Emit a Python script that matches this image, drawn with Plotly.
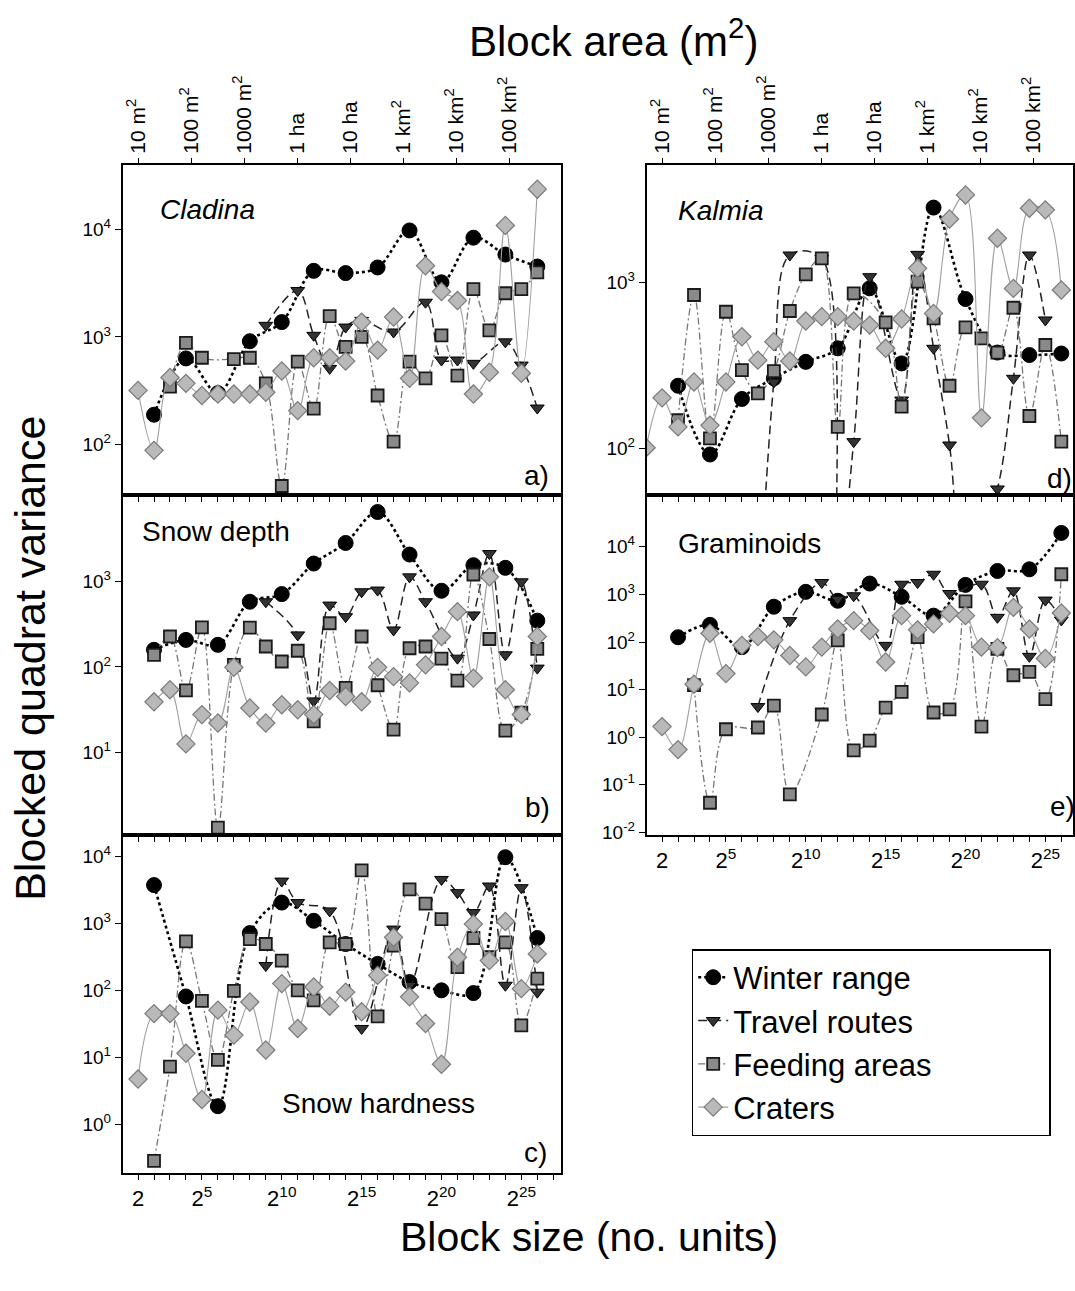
import math
import plotly.graph_objects as go

W, H = 1075, 1291
FONT = "Liberation Sans, Arial, sans-serif"

# x values are log2(block size); "2" = 2^1
# ---------------- Panel a: Cladina ----------------
A_WR_X = [2, 4, 6, 8, 10, 12, 14, 16, 18, 20, 22, 24, 26]
A_WR_Y = [189, 631, 300, 912, 1374, 4121, 3926, 4430, 9790, 3220, 8380, 5840, 4520]
A_TR_X = [9, 11, 12, 13, 14, 15, 17, 19, 20, 21, 22, 24, 25, 26]
A_TR_Y = [1282, 2700, 1035, 510, 1236, 1426, 1112, 2104, 610, 610, 568, 900, 547, 218]
A_FA_X = [3, 4, 5, 7, 8, 9, 10, 11, 12, 13, 14, 15, 16, 17, 18, 19, 20, 21, 22, 23, 24, 25, 26]
A_FA_Y = [345, 881, 640, 622, 640, 370, 41, 588, 215, 1563, 809, 1000, 285, 106, 588, 412,
          1035, 436, 2790, 1153, 2548, 2790, 3980]
A_CR_X = list(range(1, 27))
A_CR_Y = [318, 88, 419, 370, 285, 294, 294, 294, 306, 482, 206, 640, 640, 596, 1374, 754,
          1531, 412, 4593, 2642, 2179, 294, 469, 10890, 459, 23700]

# ---------------- Panel b: Snow depth ----------------
B_WR_X = [2, 4, 6, 8, 10, 12, 14, 16, 18, 20, 22, 24, 26]
B_WR_Y = [159, 208, 182, 583, 717, 1638, 2857, 6590, 2089, 785, 1567, 1459, 350]
B_TR_X = [9, 11, 12, 13, 14, 15, 16, 17, 18, 19, 21, 22, 23, 24, 25, 26]
B_TR_Y = [583, 238, 40, 533, 390, 764, 800, 272, 1143, 583, 127, 408, 2144, 139, 1000, 97]
B_FA_X = list(range(2, 27))
B_FA_Y = [139, 228, 53, 292, 1.3, 106, 290, 174, 116, 155, 23, 326, 57, 228, 61, 18.4, 166,
          174, 125, 69, 1218, 213, 17.9, 29, 163]
B_CR_X = list(range(2, 27))
B_CR_Y = [39, 54, 12.5, 27.6, 22, 99, 33, 22, 36, 31.5, 27.6, 53, 45, 39, 99, 77, 65, 106,
          228, 446, 74, 1143, 54, 27.6, 228]

# ---------------- Panel c: Snow hardness ----------------
C_WR_X = [2, 4, 6, 8, 10, 12, 14, 16, 18, 20, 22, 24, 26]
C_WR_Y = [3715, 81, 1.87, 714, 2037, 1090, 491, 248, 133, 100, 91, 9670, 603]
C_TR_X = [9, 10, 11, 13, 15, 17, 18, 20, 21, 22, 23, 24, 25, 26]
C_TR_Y = [234, 4260, 2037, 1531, 27, 820, 119, 4510, 2864, 1446, 3596, 119, 3398, 94]
C_FA_X = list(range(2, 27))
C_FA_Y = [0.286, 7.3, 538, 69.5, 9.2, 98, 582, 491, 278, 100, 71, 520, 491, 6140, 41, 464,
          3206, 1968, 1153, 222, 603, 312, 520, 30, 149]
C_CR_X = list(range(1, 27))
C_CR_Y = [4.75, 45, 45, 11.5, 2.35, 50.6, 21.5, 67, 12.9, 126, 27, 112, 58, 94, 48, 167, 617,
          80, 32, 7.9, 312, 973, 278, 1065, 106, 349]

# ---------------- Panel d: Kalmia ----------------
D_WR_X = [2, 4, 6, 8, 10, 12, 14, 16, 18, 20, 22, 24, 26]
D_WR_Y = [239, 92, 199, 265, 333, 402, 925, 326, 2838, 797, 379, 366, 374]
D_TR_X = [7, 8, 9, 11, 12, 13, 14, 16, 17, 18, 19, 20, 22, 23, 24, 25]
D_TR_Y = [8, 252, 1469, 1400, 15, 110, 1087, 196, 1482, 402, 105, 15, 57, 265, 1469, 596]
D_FA_X = [2, 3, 4, 5, 6, 7, 8, 9, 10, 11, 12, 13, 15, 16, 17, 18, 19, 20, 21, 22, 23, 24, 25, 26]
D_FA_Y = [148, 843, 115, 668, 297, 215, 293, 675, 1123, 1402, 135, 862, 577, 179, 1014, 610,
          239, 537, 461, 379, 706, 157, 421, 110]
D_CR_X = list(range(0, 27))
D_CR_Y = [101, 202, 135, 252, 138, 252, 472, 341, 441, 337, 587, 624, 624, 587, 555, 402, 604,
          1221, 653, 2421, 3383, 153, 1853, 924, 2812, 2750, 903]

# ---------------- Panel e: Graminoids ----------------
E_WR_X = [2, 4, 6, 8, 10, 12, 14, 16, 18, 20, 22, 24, 26]
E_WR_Y = [126, 229, 78, 551, 1132, 735, 1690, 891, 358, 1585, 3105, 3365, 19580]
E_TR_X = [7, 9, 11, 12, 13, 15, 16, 17, 18, 19, 21, 22, 23, 24, 25, 26]
E_TR_Y = [4.4, 281, 1775, 796, 935, 85, 1636, 1775, 2650, 1045, 1636, 330, 1189, 50, 759, 290]
E_FA_X = [3, 4, 5, 7, 8, 9, 11, 12, 13, 14, 15, 16, 17, 18, 19, 20, 21, 22, 23, 24, 25, 26]
E_FA_Y = [12.4, 0.042, 1.47, 1.6, 4.6, 0.063, 3.0, 108, 0.53, 0.85, 4.2, 9.0, 126, 3.3, 3.85,
          713, 1.67, 72, 20, 23.5, 6.3, 2650]
E_CR_X = list(range(1, 27))
E_CR_Y = [1.67, 0.55, 13, 153, 21.7, 85, 130, 111, 52, 30, 78, 188, 281, 174, 38, 358, 180,
          240, 400, 358, 78, 76, 533, 188, 45, 406]

SERIES_NAMES = ["Winter range", "Travel routes", "Feeding areas", "Craters"]
NBSP = "\u00a0"
LEGEND_PAD = [0, 0, 13, 0]   # trailing padding so the legend box is as wide as the original

# top axis: block area labels (block size 2 = 10 m2)
AREA_LABELS = ["10 m<sup>2</sup>", "100 m<sup>2</sup>", "1000 m<sup>2</sup>", "1 ha", "10 ha",
               "1 km<sup>2</sup>", "10 km<sup>2</sup>", "100 km<sup>2</sup>"]
AREA_VALUES_M2 = [10, 100, 1000, 1e4, 1e5, 1e6, 1e7, 1e8]

BOTTOM_TICKS = list(range(0, 28))
BOTTOM_LABELED = {1: "2", 5: "2<sup>5</sup>", 10: "2<sup>10</sup>", 15: "2<sup>15</sup>",
                  20: "2<sup>20</sup>", 25: "2<sup>25</sup>"}

STYLES = [
    dict(mode="lines+markers", line=dict(color="#000000", width=2.6, dash="dot", shape="spline"),
         marker=dict(symbol="circle", size=15, color="#000000", line=dict(color="#000000", width=1))),
    dict(mode="lines+markers", line=dict(color="#222222", width=1.5, dash="9px,5px", shape="spline"),
         marker=dict(symbol="triangle-down", size=12, color="#333333", line=dict(color="#000000", width=1))),
    dict(mode="lines+markers", line=dict(color="#777777", width=1.3, dash="7px,3px,2px,3px", shape="spline"),
         marker=dict(symbol="square", size=12, color="#8a8a8a", line=dict(color="#1a1a1a", width=1.8))),
    dict(mode="lines+markers", line=dict(color="#a0a0a0", width=1.1, shape="spline"),
         marker=dict(symbol="diamond", size=14, color="#b9b9b9", line=dict(color="#7a7a7a", width=1.2))),
]

PANELS = [
    # axis suffix, series data, x domain px, y domain px, y log range, y tick exps, show x labels
    ("", [(A_WR_X, A_WR_Y), (A_TR_X, A_TR_Y), (A_FA_X, A_FA_Y), (A_CR_X, A_CR_Y)],
     (123, 562), (166, 498), (1.53, 4.60), [2, 3, 4], False),
    ("2", [(B_WR_X, B_WR_Y), (B_TR_X, B_TR_Y), (B_FA_X, B_FA_Y), (B_CR_X, B_CR_Y)],
     (123, 562), (498, 840), (0.03, 4.02), [1, 2, 3], False),
    ("3", [(C_WR_X, C_WR_Y), (C_TR_X, C_TR_Y), (C_FA_X, C_FA_Y), (C_CR_X, C_CR_Y)],
     (123, 562), (840, 1180), (-0.72, 4.32), [0, 1, 2, 3, 4], True),
    ("4", [(D_WR_X, D_WR_Y), (D_TR_X, D_TR_Y), (D_FA_X, D_FA_Y), (D_CR_X, D_CR_Y)],
     (648, 1075), (166, 498), (1.72, 3.71), [2, 3], False),
    ("5", [(E_WR_X, E_WR_Y), (E_TR_X, E_TR_Y), (E_FA_X, E_FA_Y), (E_CR_X, E_CR_Y)],
     (648, 1075), (498, 840), (-2.05, 5.09), [-2, -1, 0, 1, 2, 3, 4], True),
]


def px_x(p):
    return p / W


def px_y(p):
    return 1 - p / H


def xrange_for(xdom):
    # 16 px per log2 unit; exponent 1 sits 15.3 px right of the left border
    left = 1 + (-15.3) / 16.0
    right = 1 + (xdom[1] - xdom[0] - 15.3) / 16.0
    return [left, right]


fig = go.Figure()
layout = dict(width=W, height=H, margin=dict(l=0, r=0, t=0, b=0),
              paper_bgcolor="white", plot_bgcolor="white",
              font=dict(family=FONT, color="black"), showlegend=True)

for pi, (suf, data, xdom, ydom, yr, yexps, showxl) in enumerate(PANELS):
    xa = "x" + suf
    ya = "y" + suf
    for si, (xs, ys) in enumerate(data):
        st = STYLES[si]
        fig.add_trace(go.Scatter(x=xs, y=ys, xaxis=xa, yaxis=ya,
                                 name=SERIES_NAMES[si] + NBSP * LEGEND_PAD[si],
                                 legendgroup=SERIES_NAMES[si], showlegend=(pi == 0),
                                 mode=st["mode"], line=st["line"], marker=st["marker"]))
    xr = xrange_for(xdom)
    xkey = "xaxis" + suf
    ykey = "yaxis" + suf
    layout[xkey] = dict(domain=[px_x(xdom[0]), min(1.0, px_x(xdom[1]))], anchor=ya,
                        range=xr, showgrid=False, zeroline=False,
                        showline=True, mirror=True, linecolor="black", linewidth=2,
                        ticks="outside", ticklen=5, tickwidth=1.3, tickcolor="black",
                        tickvals=BOTTOM_TICKS,
                        ticktext=[BOTTOM_LABELED.get(t, "") for t in BOTTOM_TICKS],
                        showticklabels=showxl, tickfont=dict(size=22, family=FONT))
    layout[ykey] = dict(domain=[px_y(ydom[1]), px_y(ydom[0])], anchor=xa, type="log",
                        range=list(yr), showgrid=False, zeroline=False,
                        showline=True, mirror=True, linecolor="black", linewidth=2,
                        ticks="outside", ticklen=6, tickwidth=1.3, tickcolor="black",
                        tickvals=[10 ** e for e in yexps],
                        ticktext=["10<sup>%d</sup>" % e for e in yexps],
                        tickfont=dict(size=19, family=FONT))

# top block-area axes for panels a and d
area_pos = [1 + math.log2(a / 10.0) for a in AREA_VALUES_M2]
for key, over, anc, xdom in (("xaxis6", "x", "y", (123, 562)), ("xaxis7", "x4", "y4", (648, 1075))):
    layout[key] = dict(overlaying=over, anchor=anc, side="top", range=xrange_for(xdom),
                       showgrid=False, zeroline=False, showline=False,
                       ticks="outside", ticklen=6, tickwidth=1.3, tickcolor="black",
                       tickvals=area_pos, ticktext=AREA_LABELS, tickangle=-90,
                       tickfont=dict(size=21, family=FONT))
fig.add_trace(go.Scatter(x=[None], y=[None], xaxis="x6", yaxis="y", showlegend=False,
                         hoverinfo="skip"))
fig.add_trace(go.Scatter(x=[None], y=[None], xaxis="x7", yaxis="y4", showlegend=False,
                         hoverinfo="skip"))

layout["legend"] = dict(x=px_x(693), y=px_y(955), xanchor="left", yanchor="top",
                        bgcolor="white", bordercolor="black", borderwidth=1.5,
                        font=dict(size=31, family=FONT), tracegroupgap=0)

ann = []


def add_text(text, x, y, size, xanchor="center", yanchor="middle", angle=0):
    ann.append(dict(text=text, x=px_x(x), y=px_y(y), xref="paper", yref="paper",
                    showarrow=False, xanchor=xanchor, yanchor=yanchor, textangle=angle,
                    font=dict(size=size, family=FONT, color="black")))


add_text("Block area (m<sup>2</sup>)", 615, 38, 42)
add_text("Blocked quadrat variance", 30, 662, 43, angle=-90)
add_text("Block size (no. units)", 590, 1245, 41)
add_text("<i>Cladina</i>", 158, 211, 28, xanchor="left")
add_text("Snow depth", 140, 535, 28, xanchor="left")
add_text("Snow hardness", 281, 1110, 28, xanchor="left")
add_text("<i>Kalmia</i>", 677, 212, 28, xanchor="left")
add_text("Graminoids", 677, 547, 28, xanchor="left")
add_text("a)", 552, 478, 28, xanchor="right")
add_text("b)", 553, 813, 28, xanchor="right")
add_text("c)", 550, 1160, 28, xanchor="right")
add_text("d)", 1047, 481, 28, xanchor="left")
add_text("e)", 1050, 812, 28, xanchor="left")
layout["annotations"] = ann

fig.update_layout(**layout)
fig.write_html("out.html")
